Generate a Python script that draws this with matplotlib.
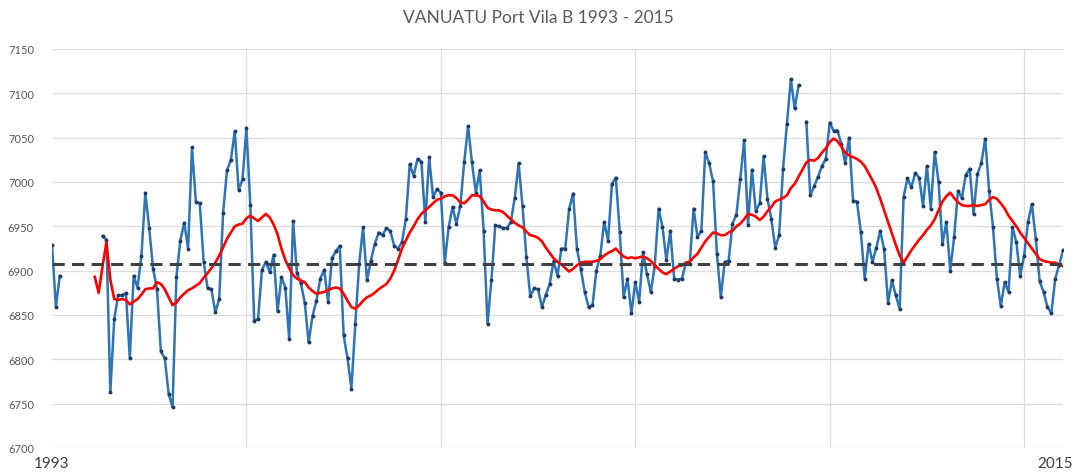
import numpy as np
import matplotlib
matplotlib.use('Agg')
import matplotlib.pyplot as plt

plt.rcParams['font.family'] = ['Lato', 'DejaVu Sans']

nan = np.nan

# monthly sea level, 1993 onwards (gaps = missing months)
sea_level = [
    6929, 6859, 6894, nan, nan, nan, nan, nan, nan, nan,
    nan, nan, nan, 6939, 6935, 6763, 6845, 6872, 6872, 6875,
    6802, 6894, 6881, 6917, 6988, 6948, 6902, 6879, 6809, 6801,
    6761, 6746, 6893, 6934, 6954, 6925, 7039, 6978, 6976, 6910,
    6881, 6879, 6853, 6868, 6965, 7013, 7025, 7057, 6991, 7003,
    7061, 6974, 6843, 6846, 6901, 6910, 6898, 6918, 6854, 6893,
    6881, 6823, 6956, 6897, 6886, 6864, 6819, 6849, 6866, 6891,
    6901, 6865, 6914, 6922, 6928, 6827, 6801, 6767, 6840, 6908,
    6949, 6889, 6911, 6930, 6943, 6940, 6948, 6945, 6928, 6925,
    6932, 6958, 7020, 7007, 7026, 7023, 6955, 7028, 6983, 6992,
    6988, 6909, 6949, 6972, 6953, 6973, 7022, 7063, 7022, 6988,
    7013, 6945, 6840, 6889, 6951, 6950, 6948, 6948, 6955, 6982,
    7021, 6973, 6915, 6871, 6880, 6879, 6859, 6873, 6885, 6911,
    6894, 6925, 6925, 6970, 6987, 6925, 6902, 6876, 6859, 6861,
    6900, 6917, 6955, 6934, 6998, 7005, 6944, 6870, 6891, 6852,
    6887, 6865, 6921, 6896, 6876, 6905, 6970, 6949, 6912, 6945,
    6891, 6890, 6891, 6909, 6908, 6970, 6938, 6945, 7034, 7021,
    7001, 6919, 6870, 6910, 6911, 6953, 6963, 7003, 7047, 6952,
    7014, 6967, 6976, 7029, 6981, 6958, 6926, 6940, 7015, 7065,
    7116, 7083, 7109, nan, 7068, 6985, 6995, 7006, 7018, 7026,
    7067, 7058, 7058, 7043, 7021, 7050, 6979, 6978, 6944, 6891,
    6930, 6910, 6926, 6945, 6924, 6864, 6889, 6872, 6857, 6983,
    7004, 6994, 7010, 7005, 6973, 7018, 6970, 7034, 7000, 6930,
    6955, 6900, 6938, 6990, 6982, 7008, 7015, 6964, 7009, 7021,
    7049, 6990, 6949, 6891, 6860, 6887, 6876, 6949, 6932, 6894,
    6917, 6955, 6975, 6936, 6888, 6876, 6859, 6852, 6891, 6906,
    6923,
]

# smoothed curve (red), starts at month 11
smooth_start = 11
smoothed = [
    6893, 6875, 6905, 6932, 6890, 6868, 6867, 6868, 6867, 6862,
    6865, 6868, 6873, 6879, 6880, 6880, 6887, 6885, 6879, 6870,
    6861, 6864, 6870, 6874, 6878, 6880, 6883, 6886, 6892, 6897,
    6903, 6909, 6917, 6926, 6936, 6943, 6950, 6952, 6953, 6959,
    6962, 6959, 6956, 6960, 6964, 6960, 6952, 6941, 6925, 6912,
    6903, 6895, 6891, 6889, 6887, 6881, 6877, 6874, 6875, 6876,
    6878, 6880, 6881, 6880, 6874, 6866, 6859, 6857, 6861, 6866,
    6870, 6872, 6875, 6879, 6882, 6885, 6891, 6900, 6912, 6925,
    6934, 6943, 6950, 6958, 6964, 6968, 6972, 6976, 6980, 6981,
    6984, 6985, 6985, 6982, 6977, 6976, 6980, 6985, 6985, 6984,
    6978, 6971, 6969, 6968, 6968, 6966, 6962, 6958, 6954, 6951,
    6949, 6944, 6940, 6939, 6937, 6933, 6926, 6920, 6914, 6910,
    6907, 6903, 6899, 6902, 6906, 6909, 6910, 6910, 6910, 6911,
    6913, 6917, 6920, 6922, 6925, 6920, 6916, 6914, 6915, 6914,
    6915, 6916, 6914, 6911, 6906, 6902, 6898, 6896, 6899, 6902,
    6905, 6906, 6909, 6910, 6915, 6919, 6926, 6933, 6938, 6943,
    6942, 6940, 6940, 6943, 6945, 6950, 6953, 6958, 6964, 6963,
    6961, 6957, 6961, 6967, 6972, 6978, 6980, 6982, 6985, 6993,
    6998, 7006, 7014, 7022, 7025, 7024, 7027, 7033, 7038, 7045,
    7049, 7046, 7040, 7033, 7030, 7028, 7026, 7023, 7018, 7010,
    7002, 6993, 6981, 6968, 6955, 6942, 6929, 6917, 6909, 6916,
    6923, 6929, 6935, 6940, 6946, 6951, 6958, 6968, 6978, 6984,
    6988, 6982, 6977, 6974, 6973, 6973, 6974, 6973, 6974, 6975,
    6980, 6983, 6981, 6976, 6970, 6962, 6956, 6950, 6943, 6937,
    6931, 6925, 6919, 6913, 6911, 6910, 6909, 6909, 6907, 6905,
]

mean_level = 6908
year_labels = ['1993', '2015']
title = 'VANUATU Port Vila B 1993 - 2015'

months = np.arange(len(sea_level))
smooth_x = np.arange(smooth_start, smooth_start + len(smoothed))

fig = plt.figure(figsize=(10.76, 4.77), dpi=100)
ax = fig.add_axes([52 / 1076, 1 - 449 / 477, 1011 / 1076, 399 / 477])

ax.plot(months, np.array(sea_level, dtype=float), color='#2f74b5', lw=1.8,
        marker='o', ms=1.8, mfc='#1f3a66', mec='#1f3a66', zorder=3)
ax.plot(smooth_x, smoothed, color='#ff0000', lw=1.9, zorder=4)
ax.axhline(mean_level, color='#404040', lw=2.2, dashes=(4, 2.4), zorder=5)

ax.set_xlim(0, len(sea_level) - 1)
ax.set_ylim(6700, 7150)
ax.set_yticks(np.arange(6700, 7151, 50))
ax.set_xticks([0, len(sea_level) - 3])
ax.set_xticklabels(year_labels, fontsize=11, color='#404040')
ax.set_xticks(np.arange(0, len(sea_level), 50), minor=True)

ax.grid(axis='y', color='#dcdcdc', lw=0.9)
ax.grid(axis='x', which='minor', color='#dcdcdc', lw=0.9)
ax.tick_params(axis='both', which='both', length=0)
ax.tick_params(axis='y', labelsize=8, labelcolor='#595959', pad=13)
ax.tick_params(axis='x', pad=6)
for s in ax.spines.values():
    s.set_visible(False)

fig.text(0.5, 1 - 18 / 477, title, ha='center', va='center', fontsize=12.5,
         color='#595959')

fig.savefig('out.png', dpi=100)
